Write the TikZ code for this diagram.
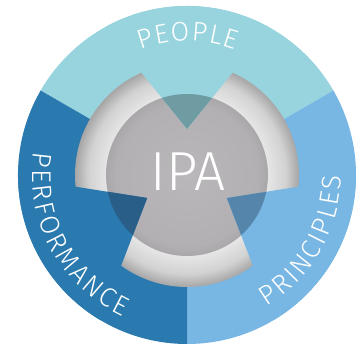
\documentclass[tikz,border=0pt]{standalone}
\usepackage{fontspec}
\newfontfamily\ipafont{Fira Sans Light}
\usetikzlibrary{calc,decorations.text}
\definecolor{people}{HTML}{98D4DE}
\definecolor{principles}{HTML}{78B6E3}
\definecolor{performance}{HTML}{2A7AB0}
\definecolor{peopledark}{HTML}{6F9BA3}
\definecolor{principlesdark}{HTML}{5585AA}
\definecolor{performancedark}{HTML}{285E88}
\definecolor{ringlight}{HTML}{E6E6E6}
\definecolor{ringmid}{HTML}{D2D2D2}
\definecolor{ringdark}{HTML}{A6A6A6}
\definecolor{corelight}{HTML}{BAB7BA}
\definecolor{coremid}{HTML}{B3B0B3}
\definecolor{coredark}{HTML}{AAA7AA}
\pgfdeclareradialshading{ringshade}{\pgfpoint{0bp}{0bp}}{color(0bp)=(ringlight);color(18bp)=(ringlight);color(22bp)=(ringmid);color(25bp)=(ringdark);color(50bp)=(ringdark)}
\pgfdeclareradialshading{coreshade}{\pgfpoint{0bp}{0bp}}{color(0bp)=(corelight);color(22bp)=(coremid);color(25bp)=(coredark);color(50bp)=(coredark)}
\tikzset{
  arclabel/.style 2 args={decorate,decoration={text along path,text align=center,
    text color=white,text={|\ipafont\fontsize{27}{27}\selectfont\kern#1|#2}}}
}

\begin{document}
\begin{tikzpicture}[x=1pt,y=1pt]
\useasboundingbox (-187,-172) rectangle (171,175);
\foreach \mid/\col in {90/people,330/principles,210/performance}
  \fill[\col] (0,0) -- ({\mid-60}:169) arc[start angle={\mid-60},end angle={\mid+60},radius=169] -- cycle;
\shade[shading=ringshade] (0,0) circle (112);
\shade[shading=coreshade] (0,0) circle (81);
\foreach \mid/\col in {90/people,330/principles,210/performance}{
  \begin{scope}
  \clip (\mid:46) -- ($(\mid:46)!3!({\mid-24}:112)$) -- ($(\mid:46)!3!({\mid+24}:112)$) -- cycle;
  \fill[\col] (0,0) circle (169);
  \fill[\col dark] (0,0) circle (81);
  \end{scope}
}
\node[text=white,font=\ipafont\fontsize{55}{55}\selectfont,inner sep=0pt] (ipa) at (1,3) {IPA};
\path[arclabel={1.4pt}{PEOPLE}] (181:134) arc[start angle=181,end angle=-1,radius=134];
\path[arclabel={2.6pt}{PERFORMANCE}] (88:155) arc[start angle=88,end angle=328,radius=155];
\path[arclabel={2.4pt}{PRINCIPLES}] (210:154) arc[start angle=210,end angle=450,radius=154];
\end{tikzpicture}
\end{document}
